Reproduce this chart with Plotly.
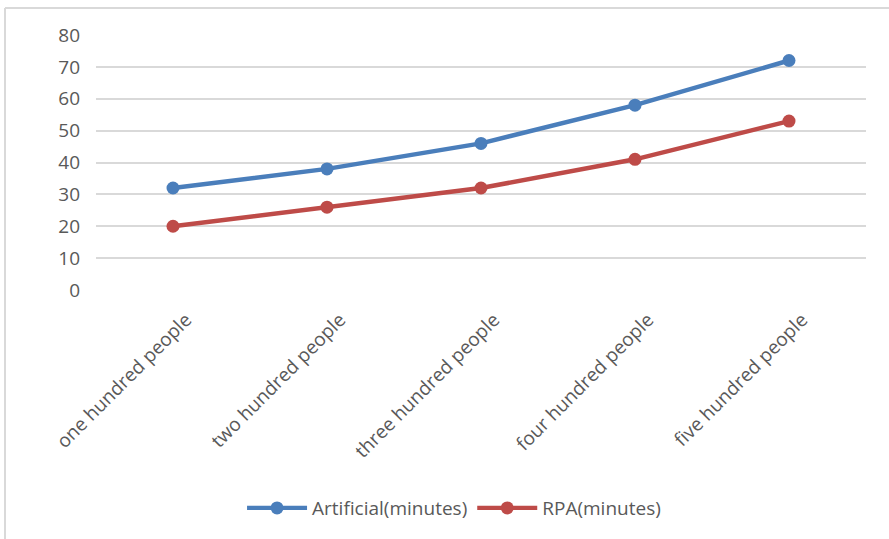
import plotly.graph_objects as go

# Processing time by group size
categories = ["one hundred people", "two hundred people", "three hundred people",
              "four hundred people", "five hundred people"]
artificial_minutes = [32, 38, 46, 58, 72]
rpa_minutes = [20, 26, 32, 41, 53]
y_ticks = [0, 10, 20, 30, 40, 50, 60, 70, 80]

W, H = 889, 539
ML, MR, MT, MB = 96, 23, 35, 249
FONT = "Open Sans, Noto Sans, sans-serif"
TEXT = "#595959"
FS = 19

fig = go.Figure()
fig.add_trace(go.Scatter(
    x=categories, y=artificial_minutes, name="Artificial(minutes)",
    mode="lines+markers",
    line=dict(color="#4a7ebb", width=4.5),
    marker=dict(color="#4a7ebb", size=13),
))
fig.add_trace(go.Scatter(
    x=categories, y=rpa_minutes, name="RPA(minutes)",
    mode="lines+markers",
    line=dict(color="#be4b48", width=4.5),
    marker=dict(color="#be4b48", size=13),
))

pw = W - ML - MR
ph = H - MT - MB
# light frame on the left and top edges of the chart area
fx0 = (5 - ML) / pw
fy1 = 1 + (MT - 8) / ph
fy0 = -(MB + 5) / ph
fig.add_shape(type="line", xref="paper", yref="paper", x0=fx0, x1=fx0, y0=fy0, y1=fy1,
              line=dict(color="#d9d9d9", width=2))
fig.add_shape(type="line", xref="paper", yref="paper", x0=fx0, x1=1 + (MR + 5) / pw, y0=fy1, y1=fy1,
              line=dict(color="#d9d9d9", width=2))

fig.update_layout(
    width=W, height=H,
    margin=dict(l=ML, r=MR, t=MT, b=MB),
    paper_bgcolor="white", plot_bgcolor="white",
    font=dict(family=FONT, size=FS, color=TEXT),
    showlegend=True,
    legend=dict(orientation="h", x=0.465, xanchor="center", y=-0.855, yanchor="middle",
                font=dict(family=FONT, size=FS, color=TEXT), itemwidth=60,
                traceorder="normal"),
    xaxis=dict(
        type="category", range=[-0.5, 4.5], tickangle=-45,
        showgrid=False, zeroline=False, showline=False, ticks="",
        ticklabelstandoff=14, ticklabelshift=13,
        tickfont=dict(family=FONT, size=FS, color=TEXT),
    ),
    yaxis=dict(
        range=[0, 80], tickvals=y_ticks, showgrid=True, gridcolor="#d9d9d9",
        gridwidth=1.5, zeroline=False, showline=False, ticks="",
        ticklabelstandoff=15,
        tickfont=dict(family=FONT, size=FS, color=TEXT),
    ),
)

fig.write_html("out.html")
